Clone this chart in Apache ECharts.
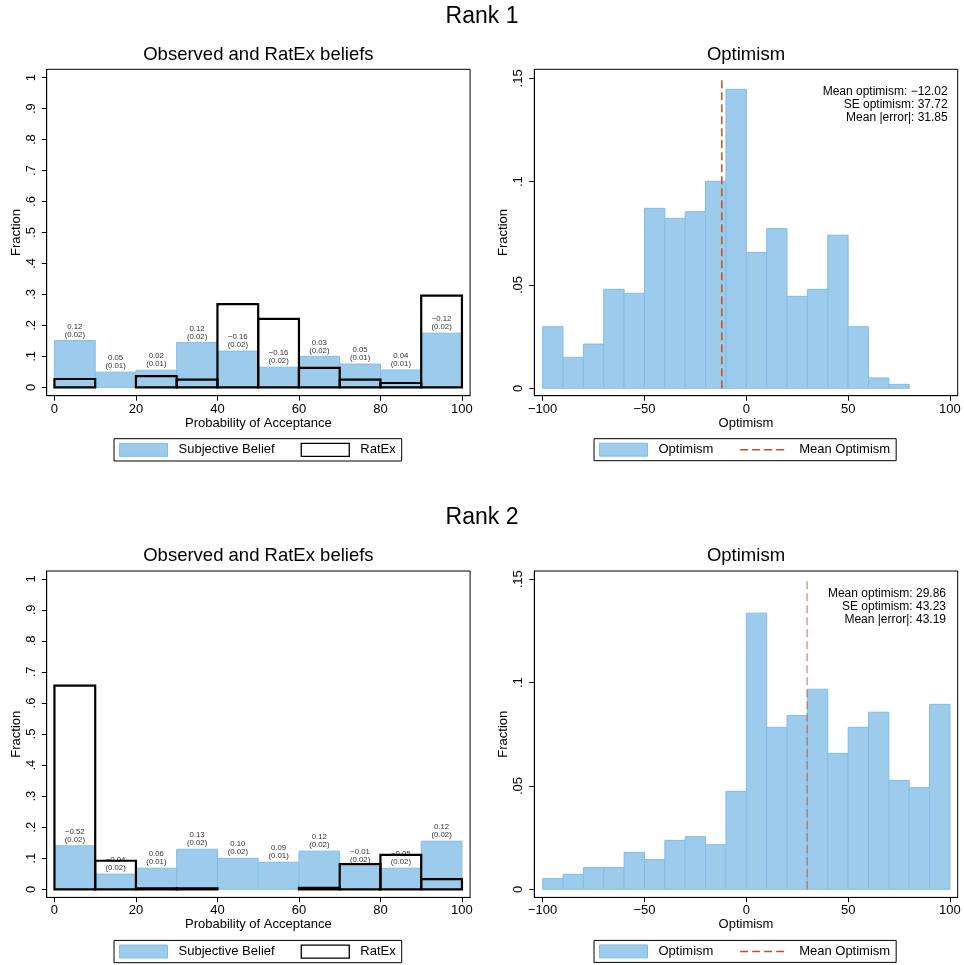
<!DOCTYPE html>
<html>
<head>
<meta charset="utf-8">
<script src="https://cdn.jsdelivr.net/npm/echarts@6/dist/echarts.min.js"></script>
<style>html,body{margin:0;background:#fff}#chart{width:964px;height:965px}</style>
</head>
<body>
<div id="chart"></div>
<script>
// bin edges
const beliefEdges = [0, 10, 20, 30, 40, 50, 60, 70, 80, 90, 100];
const optEdges = [-100, -90, -80, -70, -60, -50, -40, -30, -20, -10, 0, 10, 20, 30, 40, 50, 60, 70, 80, 90, 100];

// Rank 1
const rank1Belief = [0.151, 0.049, 0.055, 0.145, 0.117, 0.065, 0.100, 0.075, 0.056, 0.175];
const rank1Ratex = [0.027, 0, 0.036, 0.025, 0.269, 0.221, 0.063, 0.025, 0.014, 0.296];
const rank1Diff = ['0.12', '0.05', '0.02', '0.12', '\u22120.16', '\u22120.16', '0.03', '0.05', '0.04', '\u22120.12'];
const rank1Se = ['(0.02)', '(0.01)', '(0.01)', '(0.02)', '(0.02)', '(0.02)', '(0.02)', '(0.01)', '(0.01)', '(0.02)'];
const rank1Opt = [0.0298, 0.0150, 0.0214, 0.0479, 0.0460, 0.0871, 0.0823, 0.0855, 0.1002, 0.1447,
                  0.0658, 0.0773, 0.0445, 0.0479, 0.0741, 0.0298, 0.0050, 0.0019];
const rank1Mean = -12.02;
const rank1Stats = ['Mean optimism: \u221212.02', 'SE optimism: 37.72', 'Mean |error|: 31.85'];

// Rank 2
const rank2Belief = [0.140, 0.049, 0.068, 0.129, 0.100, 0.087, 0.123, 0.075, 0.068, 0.155];
const rank2Ratex = [0.656, 0.092, 0.003, 0.003, 0, 0, 0.005, 0.081, 0.111, 0.033];
const rank2Diff = ['\u22120.52', '\u22120.04', '0.06', '0.13', '0.10', '0.09', '0.12', '\u22120.01', '\u22120.05', '0.12'];
const rank2Se = ['(0.02)', '(0.02)', '(0.01)', '(0.02)', '(0.02)', '(0.01)', '(0.02)', '(0.02)', '(0.02)', '(0.02)'];
const rank2Opt = [0.0052, 0.0073, 0.0106, 0.0106, 0.0179, 0.0144, 0.0237, 0.0255, 0.0216, 0.0474,
                  0.1336, 0.0784, 0.0841, 0.0968, 0.0658, 0.0784, 0.0857, 0.0527, 0.0492, 0.0895];
const rank2Mean = 29.86;
const rank2Stats = ['Mean optimism: 29.86', 'SE optimism: 43.23', 'Mean |error|: 43.19'];

const beliefTicks = [0, 20, 40, 60, 80, 100];
const fracTicks = [0, 0.1, 0.2, 0.3, 0.4, 0.5, 0.6, 0.7, 0.8, 0.9, 1];
const optTicks = [-100, -50, 0, 50, 100];
const optFracTicks = [0, 0.05, 0.1, 0.15];

const FONT = '"Liberation Sans", Arial, sans-serif';
const BLUE = '#9ccbeb';
const BLUE_EDGE = '#84bde6';
const MEANC = '#c4501f';

function hist(edges, vals) {
    return vals.map((v, i) => [edges[i], edges[i + 1], v]);
}
function fmtNum(v) {
    let s = String(+(+v).toFixed(3));
    s = s.replace(/^0\./, '.').replace(/^-0\./, '-.');
    return s.replace('-', '\u2212');
}

function barRender(fill, stroke, lw, labels) {
    return function (params, api) {
        const h = api.value(2);
        if (!(h > 0)) return null;
        const a = api.coord([api.value(0), h]);
        const b = api.coord([api.value(1), 0]);
        const rect = {
            type: 'rect',
            shape: { x: a[0], y: a[1], width: b[0] - a[0], height: b[1] - a[1] },
            style: { fill: fill, stroke: stroke, lineWidth: lw }
        };
        if (!labels) return rect;
        return {
            type: 'group',
            children: [rect, {
                type: 'text',
                x: (a[0] + b[0]) / 2,
                y: a[1] - 2,
                style: {
                    text: labels[params.dataIndex], align: 'center', verticalAlign: 'bottom',
                    fontSize: 7.8, lineHeight: 8, fontFamily: FONT, fill: '#333'
                }
            }]
        };
    };
}

const axisCommon = {
    axisLine: { onZero: false, lineStyle: { color: '#000', width: 1 } },
    splitLine: { show: false },
    nameLocation: 'middle',
    nameTextStyle: { fontSize: 13, color: '#000', fontFamily: FONT }
};

function xAxis(grid, min, max, ticks, name) {
    return Object.assign({}, axisCommon, {
        gridIndex: grid, type: 'value', min: min, max: max, name: name, nameGap: 21,
        axisTick: { customValues: ticks, length: 5, lineStyle: { color: '#000' } },
        axisLabel: { customValues: ticks, margin: 7, fontSize: 13, color: '#000', fontFamily: FONT, formatter: fmtNum }
    });
}
function yAxis(grid, min, max, ticks) {
    return Object.assign({}, axisCommon, {
        gridIndex: grid, type: 'value', min: min, max: max, name: 'Fraction', nameGap: 24,
        axisTick: { customValues: ticks, length: 5, lineStyle: { color: '#000' } },
        axisLabel: { customValues: ticks, margin: 9, rotate: 90, fontSize: 13, color: '#000', fontFamily: FONT, formatter: fmtNum }
    });
}

const gridBase = { show: true, borderColor: '#000', borderWidth: 1, width: 423.4, height: 326.4, outerBoundsMode: 'none', containLabel: false };
const grids = [
    Object.assign({ left: 46.7, top: 69.3 }, gridBase),
    Object.assign({ left: 534.3, top: 69.3 }, gridBase),
    Object.assign({ left: 46.7, top: 571 }, gridBase),
    Object.assign({ left: 534.3, top: 571 }, gridBase)
];

function beliefSeries(idx, belief, ratex, diff, se) {
    const labels = diff.map((d, i) => d + '\n' + se[i]);
    return [{
        type: 'custom', name: 'Subjective Belief', xAxisIndex: idx, yAxisIndex: idx,
        data: hist(beliefEdges, belief), encode: { x: [0, 1], y: 2 },
        itemStyle: { color: BLUE, borderColor: BLUE_EDGE, borderWidth: 1 },
        renderItem: barRender(BLUE, BLUE_EDGE, 1, labels)
    }, {
        type: 'custom', name: 'RatEx', xAxisIndex: idx, yAxisIndex: idx,
        data: hist(beliefEdges, ratex), encode: { x: [0, 1], y: 2 },
        itemStyle: { color: '#fff', borderColor: '#000', borderWidth: 1.3 },
        renderItem: barRender('none', '#000', 2.2, null)
    }];
}
function optSeries(idx, opt, mean, opacity) {
    return [{
        type: 'custom', name: 'Optimism', xAxisIndex: idx, yAxisIndex: idx,
        data: hist(optEdges, opt), encode: { x: [0, 1], y: 2 },
        itemStyle: { color: BLUE, borderColor: BLUE_EDGE, borderWidth: 1 },
        renderItem: barRender(BLUE, BLUE_EDGE, 1, null)
    }, {
        type: 'line', name: 'Mean Optimism', xAxisIndex: idx, yAxisIndex: idx,
        data: [[mean, 0], [mean, 0.15]], symbol: 'none', silent: true,
        lineStyle: { color: MEANC, width: 1.5, type: [8, 4], opacity: opacity },
        itemStyle: { color: MEANC }
    }];
}

function legend(left, top, items) {
    return {
        left: left, top: top, orient: 'horizontal', padding: [4, 6, 4, 5],
        borderColor: '#000', borderWidth: 1, borderRadius: 0,
        itemWidth: 48, itemHeight: 13, itemGap: 26,
        textStyle: { fontSize: 13, color: '#000', fontFamily: FONT, padding: [0, 0, 0, 6] },
        selectedMode: false,
        data: items
    };
}
const beliefLegendItems = [
    { name: 'Subjective Belief', icon: 'rect', itemStyle: { color: BLUE, borderColor: BLUE_EDGE, borderWidth: 1 } },
    { name: 'RatEx', icon: 'rect', itemStyle: { color: '#fff', borderColor: '#000', borderWidth: 1.3 } }
];
const optLegendItems = [
    { name: 'Optimism', icon: 'rect', itemStyle: { color: BLUE, borderColor: BLUE_EDGE, borderWidth: 1 } },
    { name: 'Mean Optimism', itemStyle: { opacity: 0 }, lineStyle: { color: MEANC, width: 1.5, type: [8, 4], opacity: 1 } }
];

function txt(x, y, text, size, align, vAlign, lh) {
    return { type: 'text', x: x, y: y, silent: true,
        style: { text: text, fontSize: size, fontFamily: FONT, fill: '#000', align: align, verticalAlign: vAlign, lineHeight: lh || size } };
}

const option = {
    animation: false,
    backgroundColor: '#fff',
    grid: grids,
    xAxis: [
        xAxis(0, -1.9, 102, beliefTicks, 'Probability of Acceptance'),
        xAxis(1, -104.1, 103.8, optTicks, 'Optimism'),
        xAxis(2, -1.9, 102, beliefTicks, 'Probability of Acceptance'),
        xAxis(3, -104.1, 103.8, optTicks, 'Optimism')
    ],
    yAxis: [
        yAxis(0, -0.027, 1.027, fracTicks),
        yAxis(1, -0.0036, 0.1544, optFracTicks),
        yAxis(2, -0.026, 1.025, fracTicks),
        yAxis(3, -0.0039, 0.154, optFracTicks)
    ],
    legend: [
        legend(114, 438.7, beliefLegendItems),
        legend(594, 438.7, optLegendItems),
        legend(114, 940.4, beliefLegendItems),
        legend(594, 940.4, optLegendItems)
    ],
    graphic: [
        txt(482, 17, 'Rank 1', 23, 'center', 'middle'),
        txt(482, 518, 'Rank 2', 23, 'center', 'middle'),
        txt(258.4, 54.5, 'Observed and RatEx beliefs', 18.5, 'center', 'middle'),
        txt(746, 54.5, 'Optimism', 18.5, 'center', 'middle'),
        txt(258.4, 556, 'Observed and RatEx beliefs', 18.5, 'center', 'middle'),
        txt(746, 556, 'Optimism', 18.5, 'center', 'middle'),
        txt(947.7, 85, rank1Stats.join('\n'), 12, 'right', 'top', 13),
        txt(946, 587.5, rank2Stats.join('\n'), 12, 'right', 'top', 13)
    ],
    series: [].concat(
        beliefSeries(0, rank1Belief, rank1Ratex, rank1Diff, rank1Se),
        optSeries(1, rank1Opt, rank1Mean, 1),
        beliefSeries(2, rank2Belief, rank2Ratex, rank2Diff, rank2Se),
        optSeries(3, rank2Opt, rank2Mean, 0.55)
    )
};

const chart = echarts.init(document.getElementById('chart'), null, { renderer: 'canvas' });
chart.setOption(option);
</script>
</body>
</html>
